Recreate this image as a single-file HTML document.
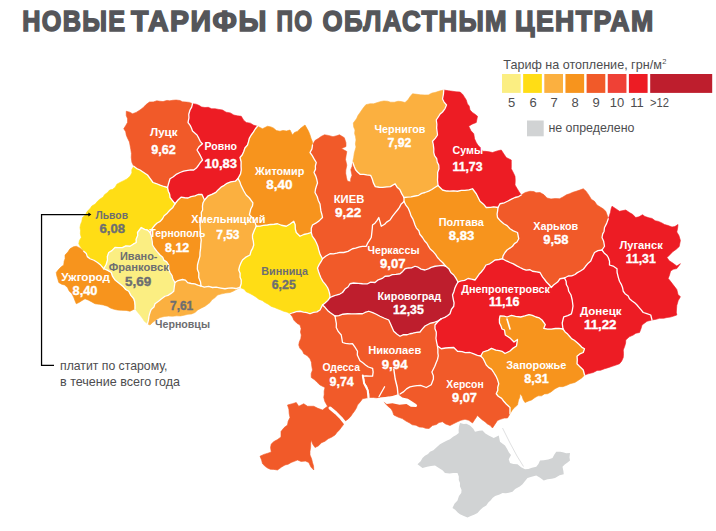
<!DOCTYPE html>
<html lang="ru"><head><meta charset="utf-8"><title>Новые тарифы по областным центрам</title>
<style>html,body{margin:0;padding:0;background:#fff}svg{display:block}</style></head>
<body>
<svg width="716" height="531" viewBox="0 0 716 531">
<rect width="716" height="531" fill="#fff"/>
<g stroke-linejoin="round">
<path d="M133.75 166.25 L131.89 162.35 L131.25 157.5 L131.43 153.49 L130.83 149.58 L130 145 L129.44 141.97 L127.45 137.9 L126.25 135 L125.71 131.74 L123.75 128.75 L125.74 125.58 L127.5 122.5 L127.56 118.77 L126.26 115.53 L126.25 111.25 L129.73 112.15 L132.5 113.75 L136.17 112.38 L140 110 L143.27 107.55 L146.04 104.58 L149.5 102 L153.31 101.88 L156.77 100.83 L160 101.25 L163.02 101.58 L166.91 100.39 L169.73 100.81 L172.92 100.25 L176.17 100.03 L180 100.5 L182.49 101.85 L186.38 102.11 L189.5 102.39 L192.5 103.75 L191.67 107.07 L190 110 L188.77 114.3 L188.95 117.85 L188 122.5 L190.14 125.39 L191.43 128 L192.5 131 L197 135 L198.77 138.15 L200.36 141.6 L202.5 143.75 L199.31 146.38 L197 150 L199.25 153.58 L200.95 156.76 L202.5 160 L200.1 162.96 L198.67 165 L196.36 168.08 L193.75 170 L190.66 169.95 L186.4 170.65 L183.53 171.23 L180 172.5 L176.69 174.09 L173.32 176.79 L170 178.75 L168.59 183.51 L167.5 187.5 L163.81 186.49 L160.03 185.14 L156.15 183.51 L153 182.5 L150.58 179.19 L147.5 175 L143.35 172.19 L140 170 L136.72 168.61Z" fill="#F15A29" stroke="#F15A29" stroke-width="0.6"/>
<path d="M192.5 103.75 L196.03 104.15 L198.8 105.31 L201.67 107.02 L205 107.5 L208.27 107.32 L211.59 108.74 L215.12 108.77 L218.93 109.45 L222.5 110 L226.11 112.21 L230.28 112.89 L233.75 115 L237.37 115.87 L241.25 116.25 L243.62 120.16 L246.25 122.5 L250.34 123.13 L253.75 125.24 L257.5 126.25 L255.42 128.73 L253.36 132.14 L251.25 135 L249.31 138.32 L248.59 141.31 L247.5 145 L244.88 147.98 L243.75 151.44 L242.32 154.77 L240 157.5 L241.13 161.72 L241.05 165.97 L241.25 170 L240.53 173.89 L238 178.5 L235.4 181.2 L230.68 181.98 L227 183.3 L224.27 185.34 L221.5 186.8 L218.33 189.67 L215.9 192.3 L211.8 194.44 L208.2 195.8 L204.5 200 L202 194.5 L198.13 194.49 L195 195.8 L191.07 196.64 L188 198 L184.82 197.76 L181 197.2 L178 200 L175 203.75 L172.28 200.3 L170 197.5 L169.59 193.99 L168.28 191.17 L167.5 187.5 L168.59 183.51 L170 178.75 L173.32 176.79 L176.69 174.09 L180 172.5 L183.53 171.23 L186.4 170.65 L190.66 169.95 L193.75 170 L196.36 168.08 L198.67 165 L200.1 162.96 L202.5 160 L200.95 156.76 L199.25 153.58 L197 150 L199.31 146.38 L202.5 143.75 L200.36 141.6 L198.77 138.15 L197 135 L192.5 131 L191.43 128 L190.14 125.39 L188 122.5 L188.95 117.85 L188.77 114.3 L190 110 L191.67 107.07Z" fill="#ED1C24" stroke="#ED1C24" stroke-width="0.6"/>
<path d="M83.75 251.25 L80.7 247.37 L78.75 243.75 L79.42 240.58 L81.25 237.5 L80.34 233.84 L80.49 230.65 L80 227.5 L80.58 224.47 L81.79 221.39 L82.5 217.5 L85.32 215.06 L87.2 211.37 L90 208.75 L91.83 205.98 L95.26 204.04 L97.5 201.25 L99.79 199.21 L103.19 197.06 L104.53 194.67 L107.5 192.5 L109.66 190 L112.6 189.36 L115.23 187.27 L116.89 184.15 L120 182.5 L123.69 180.63 L126.95 178.99 L130 176.25 L131.89 172.92 L131.78 169.74 L133.75 166.25 L136.72 168.61 L140 170 L143.35 172.19 L147.5 175 L150.58 179.19 L153 182.5 L156.15 183.51 L160.03 185.14 L163.81 186.49 L167.5 187.5 L168.28 191.17 L169.59 193.99 L170 197.5 L172.28 200.3 L175 203.75 L172.89 207.4 L170 210 L167.21 213.13 L164.13 215.75 L162.5 218.75 L160.19 221.45 L157.15 223.02 L155 225 L152.3 228.4 L150 232.5 L147.5 230 L144.65 229.32 L141.25 227.5 L137.5 232.5 L137.72 235.41 L136.11 239.15 L136.25 242.5 L133.2 244.18 L130 246.25 L125.86 245.89 L122.27 247.54 L118.34 247.53 L115 247.5 L111.9 250.67 L108.75 252.5 L107.35 256.52 L107.5 260 L106.23 264.23 L103.75 268.75 L100.67 265.1 L97.5 262.5 L93.95 260.26 L90 258.75 L87.34 256.63 L86.27 253.48Z" fill="#FFDD15" stroke="#FFDD15" stroke-width="0.6"/>
<path d="M83.75 251.25 L80.1 248.15 L76.25 246.25 L73.37 246.87 L70 248.75 L67.8 252.1 L65 255 L65.07 258.69 L64.1 261.25 L63.75 265 L61.25 266.79 L58.71 269.32 L56.25 272.5 L56.77 275.79 L57.81 279.08 L58.75 282.5 L61.57 284.18 L64.6 284.98 L67.5 287.5 L69.13 290.91 L71.96 293.77 L73.75 297.5 L74.97 300.64 L76.25 303.75 L79.43 302.28 L81.74 300.69 L85 298.75 L88.53 300.14 L91.33 301.67 L95 303.75 L99.3 304.33 L103.32 304.98 L107.5 306.25 L110.46 308.05 L114.21 309.34 L117.5 310 L121.36 310.35 L126.15 310.39 L130 311.25 L135 308.75 L135.03 305.39 L134.67 301.7 L133.75 298.75 L130.89 295.35 L128.75 291.25 L125.7 289.52 L123.4 286.84 L121.25 285 L118.21 282.57 L115 280 L112.6 276.43 L111.25 272.5 L107.22 270.18 L103.75 268.75 L100.67 265.1 L97.5 262.5 L93.95 260.26 L90 258.75 L87.34 256.63 L86.27 253.48Z" fill="#F7941D" stroke="#F7941D" stroke-width="0.6"/>
<path d="M135 308.75 L137.7 312.17 L140 315 L142.4 318.14 L144.32 321.18 L147.5 323.75 L148.53 319.64 L148.95 316.18 L150 312.5 L151.15 309.47 L153.94 306.96 L155 303.75 L158.8 300.93 L161.57 298.79 L165 296.25 L167.99 295.32 L171.1 293.43 L173.75 291.25 L174.19 287.46 L175 282.5 L172.9 279.11 L172.02 275.62 L170 272.5 L168.67 269.04 L168.75 265 L166.69 261.86 L163.82 260.1 L162.69 257.28 L160 255 L156.92 251.44 L154.45 248.27 L152.5 245 L152.18 241.34 L151.28 236.26 L150 232.5 L147.5 230 L144.65 229.32 L141.25 227.5 L137.5 232.5 L137.72 235.41 L136.11 239.15 L136.25 242.5 L133.2 244.18 L130 246.25 L125.86 245.89 L122.27 247.54 L118.34 247.53 L115 247.5 L111.9 250.67 L108.75 252.5 L107.35 256.52 L107.5 260 L106.23 264.23 L103.75 268.75 L107.22 270.18 L111.25 272.5 L112.6 276.43 L115 280 L118.21 282.57 L121.25 285 L123.4 286.84 L125.7 289.52 L128.75 291.25 L130.89 295.35 L133.75 298.75 L134.67 301.7 L135.03 305.39Z" fill="#FBEE82" stroke="#FBEE82" stroke-width="0.6"/>
<path d="M175 203.75 L178 200 L181 197.2 L184.82 197.76 L188 198 L191.07 196.64 L195 195.8 L198.13 194.49 L202 194.5 L204.5 200 L202.94 203.04 L202.45 206.05 L202.61 209.98 L201.25 212.5 L201.49 216.78 L200.42 220.47 L200 225 L200.34 229.15 L200.32 232.64 L200.5 236.12 L201.25 240 L200.84 243.99 L200.58 248.41 L200 252.5 L199.94 256.17 L198.63 260.68 L197.5 265 L197.37 269.21 L198.81 273.01 L198.75 277.5 L200.49 281.9 L201 286 L197.77 285.1 L194.82 283.87 L191.25 283.5 L187.65 282.64 L185.41 280.14 L182.5 279.5 L178.02 280.51 L175 282.5 L172.9 279.11 L172.02 275.62 L170 272.5 L168.67 269.04 L168.75 265 L166.69 261.86 L163.82 260.1 L162.69 257.28 L160 255 L156.92 251.44 L154.45 248.27 L152.5 245 L152.18 241.34 L151.28 236.26 L150 232.5 L152.3 228.4 L155 225 L157.15 223.02 L160.19 221.45 L162.5 218.75 L164.13 215.75 L167.21 213.13 L170 210 L172.89 207.4Z" fill="#F7941D" stroke="#F7941D" stroke-width="0.6"/>
<path d="M201 286 L204.23 287.13 L208.64 286.41 L212.5 287.5 L216.16 287.2 L220.77 288.04 L225 288.75 L228.55 288.14 L232.05 287.97 L235.75 288.51 L240 287.5 L237.15 288.99 L233.05 291.27 L230 292.5 L225.34 293.07 L221.77 293.84 L217.5 295 L214.83 297.85 L211.88 299.87 L210 302.5 L205 306.25 L201.06 308.14 L197.81 309.9 L195 312.5 L191.56 313.96 L187.96 314.29 L185 315 L180.52 315.96 L176.77 315.83 L172.5 316.25 L168.52 316.08 L164.27 316.49 L160 317.5 L156.47 319.49 L152.54 322.45 L150 325 L147.5 323.75 L148.53 319.64 L148.95 316.18 L150 312.5 L151.15 309.47 L153.94 306.96 L155 303.75 L158.8 300.93 L161.57 298.79 L165 296.25 L167.99 295.32 L171.1 293.43 L173.75 291.25 L174.19 287.46 L175 282.5 L178.02 280.51 L182.5 279.5 L185.41 280.14 L187.65 282.64 L191.25 283.5 L194.82 283.87 L197.77 285.1Z" fill="#FBB040" stroke="#FBB040" stroke-width="0.6"/>
<path d="M204.5 200 L208.2 195.8 L211.8 194.44 L215.9 192.3 L218.33 189.67 L221.5 186.8 L224.27 185.34 L227 183.3 L230.68 181.98 L235.4 181.2 L238 178.5 L239.81 181.82 L241 185.4 L243.8 191 L246.17 195 L249.4 198 L252.9 202.8 L252.53 205.74 L250.8 209 L249.4 214.7 L253.6 218.9 L255.22 222.93 L256.25 226.25 L254.44 229.95 L252.5 235 L252.54 237.99 L253.34 241.41 L253.75 245 L252.59 248.44 L251.06 251.09 L250 255 L245.45 257.39 L242.5 260 L241.03 262.81 L239.61 266.16 L238.75 270 L240.1 273.25 L240.08 277.16 L241.25 280 L241.19 283.74 L240 287.5 L235.75 288.51 L232.05 287.97 L228.55 288.14 L225 288.75 L220.77 288.04 L216.16 287.2 L212.5 287.5 L208.64 286.41 L204.23 287.13 L201 286 L200.49 281.9 L198.75 277.5 L198.81 273.01 L197.37 269.21 L197.5 265 L198.63 260.68 L199.94 256.17 L200 252.5 L200.58 248.41 L200.84 243.99 L201.25 240 L200.5 236.12 L200.32 232.64 L200.34 229.15 L200 225 L200.42 220.47 L201.49 216.78 L201.25 212.5 L202.61 209.98 L202.45 206.05 L202.94 203.04Z" fill="#FBB040" stroke="#FBB040" stroke-width="0.6"/>
<path d="M257.5 126.25 L262.5 128.75 L267.5 126.25 L270.91 126.92 L273.67 128.16 L276.3 130.56 L280 131.25 L282.95 130.41 L286.49 131.01 L290 130 L292.5 135 L294.49 132.45 L297.77 131.16 L300 128.75 L305 125 L306.89 128.37 L308.54 131.27 L310 135 L310.98 138.16 L312.4 141.66 L312.5 145 L311.94 148.91 L310 152.5 L312.08 155.32 L314.19 159.18 L316.25 162.5 L315.34 166.14 L315.5 169.13 L314 172.5 L315.9 176.34 L316.72 179.21 L317.5 183 L316.36 186.29 L315.55 188.95 L315 192.5 L317.25 196.75 L318.19 200.2 L320 204 L320.48 207.76 L320.89 210.95 L321.82 214.21 L322.5 217.5 L319.07 220.88 L315.77 223.17 L312.5 225 L311.29 228.2 L311.25 232.5 L307.66 233.6 L303.76 234.5 L300 236.25 L296.25 232.5 L295.32 228.96 L295.16 224.75 L293.75 221.25 L289.72 224.19 L286.25 226.25 L281.38 225.24 L277.5 223.75 L274.22 224.26 L270.42 224.48 L267.5 225 L263.33 225.47 L260.11 226.13 L256.25 226.25 L255.22 222.93 L253.6 218.9 L249.4 214.7 L250.8 209 L252.53 205.74 L252.9 202.8 L249.4 198 L246.17 195 L243.8 191 L241 185.4 L239.81 181.82 L238 178.5 L240.53 173.89 L241.25 170 L241.05 165.97 L241.13 161.72 L240 157.5 L242.32 154.77 L243.75 151.44 L244.88 147.98 L247.5 145 L248.59 141.31 L249.31 138.32 L251.25 135 L253.36 132.14 L255.42 128.73Z" fill="#F7941D" stroke="#F7941D" stroke-width="0.6"/>
<path d="M256.25 226.25 L260.11 226.13 L263.33 225.47 L267.5 225 L270.42 224.48 L274.22 224.26 L277.5 223.75 L281.38 225.24 L286.25 226.25 L289.72 224.19 L293.75 221.25 L295.16 224.75 L295.32 228.96 L296.25 232.5 L300 236.25 L303.76 234.5 L307.66 233.6 L311.25 232.5 L312.25 236.17 L315 240 L316.38 242.84 L317.82 246.16 L318.75 250 L320.06 254.39 L322.5 258.75 L321.16 261.47 L319.11 264.61 L317.5 268 L318.39 271.24 L319.79 275.04 L321 278 L323 281.66 L325.38 284.42 L327.5 287.5 L328.7 290.37 L329.78 294.46 L330 297.5 L327.85 300.38 L325.3 302.69 L322.5 305 L320 310 L316.92 311.87 L313.44 312.35 L310 313.75 L306.86 312.68 L303.57 312.21 L300 311.25 L296.3 311.64 L293.53 312.51 L290 313.75 L287.28 312.17 L283.56 311.19 L280.84 310.05 L277.5 308.75 L274.4 307.41 L271.34 306.4 L268.18 304.16 L265 302.5 L262.15 300.43 L259.08 299.38 L256.27 297.27 L253.08 295.17 L250 293.5 L246.09 291.67 L244.18 289.22 L240 287.5 L241.19 283.74 L241.25 280 L240.08 277.16 L240.1 273.25 L238.75 270 L239.61 266.16 L241.03 262.81 L242.5 260 L245.45 257.39 L250 255 L251.06 251.09 L252.59 248.44 L253.75 245 L253.34 241.41 L252.54 237.99 L252.5 235 L254.44 229.95Z" fill="#FFDD15" stroke="#FFDD15" stroke-width="0.6"/>
<path d="M312.5 145 L315 140.5 L318.61 138.34 L321.09 136.51 L324.5 134.8 L328.33 135.41 L333 136.7 L336.75 135.73 L339.5 134.8 L344.3 137.7 L345.95 142.63 L346 146.5 L341.5 148.6 L346.8 151.5 L346.17 155.04 L345.5 159.4 L346.8 165.2 L345.8 170 L345.7 173.29 L346.39 177.31 L347.3 181 L350.6 182 L350.68 178.87 L352 175.3 L350.8 169.7 L352.15 166.19 L352.7 162.1 L354.25 166.46 L355.6 169.7 L357.58 171.99 L360.3 174.4 L363.67 174.45 L366.74 174.92 L370.6 175.3 L372.28 178.98 L373.4 182.9 L375.3 186.6 L379.24 187.24 L382.71 187.3 L386.57 186.95 L390.4 186.6 L395.1 183.8 L397.12 187.14 L399.8 189.5 L401.71 193.64 L404 197.5 L404 201.5 L401.01 204.22 L399.45 207.41 L397.5 210 L395.13 212.87 L392.36 216.4 L390 220 L386.64 222.14 L384.65 224.23 L381.25 226.25 L380.18 222.39 L378.75 217.5 L377.09 220.3 L374.95 223.17 L372.5 225 L372.25 228.6 L371.78 233.16 L371.25 237.5 L369.34 240.66 L367.83 242.89 L366.25 246.25 L362.48 246.32 L359.58 246.91 L355.61 248.13 L352.5 248.75 L347.99 251.38 L343.75 252.5 L339.89 252.41 L336.87 253.14 L333.43 253.85 L330 253.75 L325.99 255.96 L322.5 258.75 L320.06 254.39 L318.75 250 L317.82 246.16 L316.38 242.84 L315 240 L312.25 236.17 L311.25 232.5 L311.29 228.2 L312.5 225 L315.77 223.17 L319.07 220.88 L322.5 217.5 L321.82 214.21 L320.89 210.95 L320.48 207.76 L320 204 L318.19 200.2 L317.25 196.75 L315 192.5 L315.55 188.95 L316.36 186.29 L317.5 183 L316.72 179.21 L315.9 176.34 L314 172.5 L315.5 169.13 L315.34 166.14 L316.25 162.5 L314.19 159.18 L312.08 155.32 L310 152.5 L311.94 148.91Z" fill="#F15A29" stroke="#F15A29" stroke-width="0.6"/>
<path d="M352.7 162.1 L353.61 157.8 L354.3 153 L356 147 L355.39 143.88 L356 140 L355.5 136.6 L354.62 133.6 L355 130 L353.71 126.97 L353.3 123 L356.5 118.8 L357.98 115.48 L360.3 112.2 L363.38 107.79 L365.9 104.7 L370.12 103.75 L373.68 103.82 L377.5 102.5 L381.07 101.46 L383.93 100.98 L387.5 101.25 L390.53 102.16 L394.28 102.25 L398.05 101.25 L401.3 101.56 L405 102.5 L408.01 99.84 L409.97 96.69 L412.5 93.75 L417.07 94.34 L420.3 94.82 L425 95 L428.37 94.9 L432.02 93.07 L435 92.5 L439.42 91.08 L443.75 90 L443.46 93.86 L442.5 99 L444.08 102.05 L446.5 105 L445.02 108.57 L442.5 112 L439.84 114.35 L438.11 117.23 L436.25 120 L436.85 124.23 L436.62 127.94 L437 131.18 L437.5 135 L435.37 138.16 L432.5 141.25 L433.29 144.68 L433.8 148.81 L433.75 152.5 L434.52 155.7 L436.68 158.55 L437.18 162.16 L438.75 165 L438.97 168.72 L437.66 172.27 L437.66 176.78 L437.5 180 L438 185.5 L434.48 187.73 L431.8 189.49 L428.69 191.05 L425 192.5 L421.69 193.34 L418.62 195.32 L415 196 L411.02 196.94 L407.51 197.08 L404 197.5 L401.71 193.64 L399.8 189.5 L397.12 187.14 L395.1 183.8 L390.4 186.6 L386.57 186.95 L382.71 187.3 L379.24 187.24 L375.3 186.6 L373.4 182.9 L372.28 178.98 L370.6 175.3 L366.74 174.92 L363.67 174.45 L360.3 174.4 L357.58 171.99 L355.6 169.7 L354.25 166.46Z" fill="#FBB040" stroke="#FBB040" stroke-width="0.6"/>
<path d="M443.75 90 L448.62 90.8 L452.5 91.25 L456.07 91.84 L460 92 L462.56 94.17 L464.65 97.39 L466.25 100 L467.44 103.9 L469.17 106 L470 110 L472.66 112.64 L474.66 113.97 L477.5 116.25 L476.25 122.5 L472.01 124.18 L468.75 126.25 L470.97 130.77 L473.75 133.75 L474.55 138.83 L476.25 142.5 L477.96 145.22 L480.92 148.14 L482.5 151.25 L485.48 151.35 L489.11 151.83 L492.5 152.5 L497.16 150.95 L501.25 150 L504.07 154.29 L506.25 157.5 L511.25 160 L511.32 164.87 L511.25 168.75 L513.12 172.25 L515 176.25 L515.25 180.41 L515 185 L517.22 188.71 L519.17 191.91 L521.25 195 L518.67 196.56 L515 197.5 L511.48 199.17 L507.5 201.25 L504.37 202.77 L500 203.75 L498 207.5 L493.76 206.89 L490.62 207.46 L486.25 207.5 L483.49 204.19 L480 201.25 L478.11 197.46 L476.25 193.75 L472.5 188.75 L468.98 189.91 L464.92 190.33 L461.31 190.44 L457.5 191.25 L453.55 190.8 L449.84 191.03 L446.7 191.02 L442.5 190 L438 185.5 L437.5 180 L437.66 176.78 L437.66 172.27 L438.97 168.72 L438.75 165 L437.18 162.16 L436.68 158.55 L434.52 155.7 L433.75 152.5 L433.8 148.81 L433.29 144.68 L432.5 141.25 L435.37 138.16 L437.5 135 L437 131.18 L436.62 127.94 L436.85 124.23 L436.25 120 L438.11 117.23 L439.84 114.35 L442.5 112 L445.02 108.57 L446.5 105 L444.08 102.05 L442.5 99 L443.46 93.86Z" fill="#ED1C24" stroke="#ED1C24" stroke-width="0.6"/>
<path d="M438 185.5 L442.5 190 L446.7 191.02 L449.84 191.03 L453.55 190.8 L457.5 191.25 L461.31 190.44 L464.92 190.33 L468.98 189.91 L472.5 188.75 L476.25 193.75 L478.11 197.46 L480 201.25 L483.49 204.19 L486.25 207.5 L490.62 207.46 L493.76 206.89 L498 207.5 L497.67 210.6 L497.07 214.16 L497.5 217.5 L500.63 221.07 L503.75 223.75 L507.09 225.61 L510 228.75 L513.36 230.87 L517.5 232.5 L518.75 238.75 L516.94 241.95 L514.41 243.62 L512.5 246.25 L510.22 247.92 L507.02 249.97 L505 252.5 L503.04 255.82 L502.5 258.75 L499.11 259.49 L495 260 L492.33 261.96 L489.64 263.78 L486 265 L483.73 268.8 L481.25 272 L479.03 274.31 L476.95 277.42 L475 280 L471.55 279.11 L468 278.5 L464.54 280.42 L461.04 280.87 L458 282 L455.91 278.14 L453.75 275 L450.81 272.51 L448.81 268.64 L445.5 266 L442.82 262.73 L439.8 259.92 L437.5 257.5 L435.74 254.63 L432.76 251.18 L430 248.75 L428.44 246.12 L426.84 243.23 L424.51 240.75 L422.5 237.5 L419.85 234.28 L418.86 230.77 L416.39 228.08 L415 225 L413.94 221.72 L412.8 218.83 L410.93 215.63 L410 212.5 L408.16 208.07 L405.87 205.09 L404 201.5 L404 197.5 L407.51 197.08 L411.02 196.94 L415 196 L418.62 195.32 L421.69 193.34 L425 192.5 L428.69 191.05 L431.8 189.49 L434.48 187.73Z" fill="#F7941D" stroke="#F7941D" stroke-width="0.6"/>
<path d="M322.5 258.75 L325.99 255.96 L330 253.75 L333.43 253.85 L336.87 253.14 L339.89 252.41 L343.75 252.5 L347.99 251.38 L352.5 248.75 L355.61 248.13 L359.58 246.91 L362.48 246.32 L366.25 246.25 L367.83 242.89 L369.34 240.66 L371.25 237.5 L371.78 233.16 L372.25 228.6 L372.5 225 L374.95 223.17 L377.09 220.3 L378.75 217.5 L380.18 222.39 L381.25 226.25 L384.65 224.23 L386.64 222.14 L390 220 L392.36 216.4 L395.13 212.87 L397.5 210 L399.45 207.41 L401.01 204.22 L404 201.5 L405.87 205.09 L408.16 208.07 L410 212.5 L410.93 215.63 L412.8 218.83 L413.94 221.72 L415 225 L416.39 228.08 L418.86 230.77 L419.85 234.28 L422.5 237.5 L424.51 240.75 L426.84 243.23 L428.44 246.12 L430 248.75 L432.76 251.18 L435.74 254.63 L437.5 257.5 L439.8 259.92 L442.82 262.73 L445.5 266 L442.25 265.43 L438.16 265.83 L435 266.25 L431.13 267.34 L428.8 268.6 L425 270 L421.12 269.08 L418.14 267.19 L415 266.25 L411.5 267.81 L408.35 267.98 L405 268.75 L402.74 271.41 L400 273.75 L395.92 274.31 L392.26 274.57 L389.3 275.99 L385 276.25 L382.18 278.45 L377.59 280.2 L375 282.5 L370.62 282.2 L367.14 283.96 L362.5 283.75 L358.29 283.28 L353.57 283.01 L350 283.75 L348.17 286.77 L344.99 289.08 L342.5 292.5 L339.8 294.05 L336.25 295.01 L333.25 296.08 L330 297.5 L329.78 294.46 L328.7 290.37 L327.5 287.5 L325.38 284.42 L323 281.66 L321 278 L319.79 275.04 L318.39 271.24 L317.5 268 L319.11 264.61 L321.16 261.47Z" fill="#F15A29" stroke="#F15A29" stroke-width="0.6"/>
<path d="M330 297.5 L333.25 296.08 L336.25 295.01 L339.8 294.05 L342.5 292.5 L344.99 289.08 L348.17 286.77 L350 283.75 L353.57 283.01 L358.29 283.28 L362.5 283.75 L367.14 283.96 L370.62 282.2 L375 282.5 L377.59 280.2 L382.18 278.45 L385 276.25 L389.3 275.99 L392.26 274.57 L395.92 274.31 L400 273.75 L402.74 271.41 L405 268.75 L408.35 267.98 L411.5 267.81 L415 266.25 L418.14 267.19 L421.12 269.08 L425 270 L428.8 268.6 L431.13 267.34 L435 266.25 L438.16 265.83 L442.25 265.43 L445.5 266 L448.81 268.64 L450.81 272.51 L453.75 275 L455.91 278.14 L458 282 L456.16 285.27 L454.8 288.35 L453.98 291.4 L452.5 295 L453.28 299.27 L454.08 302.79 L453.75 306.25 L451.37 309.44 L450 313.75 L447.48 315.78 L444.78 317.36 L441.25 318.75 L438.14 320.9 L433.75 322.5 L429.82 323.48 L425 326 L422.24 329.09 L420 332 L416.42 332.38 L412.86 333.24 L410 333.75 L407.15 334.74 L403.57 334.59 L400 336.25 L397.12 334.31 L393.75 331.25 L392.18 327.66 L390.43 323.7 L388.75 320 L383.9 318 L380 316.25 L376.28 314.22 L372.7 312.6 L368.75 311.25 L365.08 312.46 L362.5 313.75 L359.08 313.56 L355.51 313.78 L351.37 313.91 L347.5 313.75 L342.85 314.23 L338.92 315.63 L335 316 L330 312.5 L327.56 310.42 L324.98 307.32 L322.5 305 L325.3 302.69 L327.85 300.38Z" fill="#BE1E2D" stroke="#BE1E2D" stroke-width="0.6"/>
<path d="M290 313.75 L292.55 316.95 L293.75 320 L296.94 323.27 L300 325 L301.09 328.72 L300.46 332.02 L301.25 335 L300.82 338.39 L299.29 342.05 L298.75 345 L299.82 348.11 L302.55 350.93 L303.75 353.75 L307.27 355.68 L310 358.75 L311.38 362.15 L311.82 366.5 L312.5 370 L311.15 373.63 L311.25 377.5 L314.83 379.91 L317.11 382.37 L320 385 L325 387.5 L324.15 390.97 L324.18 394.61 L323.75 397.5 L324.84 401.55 L327.5 406.25 L322.5 410 L317.86 408.32 L313.75 406.25 L307.5 406.25 L303.75 403.75 L298.75 406.25 L296.25 402.5 L292.38 403.69 L287.5 405 L288.89 409.19 L289.2 413.64 L290 417.5 L288.17 421.15 L287.5 425 L284.15 427.58 L281 431.5 L281 437 L277.58 439.49 L273.94 441.5 L271.25 444 L270.54 447.52 L271.25 452 L267.96 453.2 L263.9 454.42 L260 456.25 L261.57 460.02 L262.5 463.75 L265.13 466.34 L267.5 468 L270.21 469.28 L273.74 469.39 L277.5 470 L281.56 467.07 L285 465 L288.19 464.21 L291.13 462.51 L294.34 461.34 L297.5 460 L301.09 461.42 L305.38 461.11 L308.75 462.5 L310.96 467.05 L313.75 470 L313.55 466.12 L312.5 462.5 L311.6 458.76 L310 455 L309.98 451.47 L310.64 447.25 L310.76 443.2 L311.25 440 L312.66 444 L315 447.5 L318.25 445.93 L321.54 442.71 L325 441.25 L328.14 438.73 L331.56 437.23 L335 435 L336.92 432.46 L339.42 429.9 L341.25 427.5 L343.51 424.53 L345 421.25 L348.29 418.92 L350.7 416.43 L352.5 413.75 L354.41 411.34 L356.51 407.85 L357.5 405 L360.43 401.67 L362.5 398.75 L368.75 397.5 L368.7 393.87 L367.7 390.3 L366.52 386.43 L364.1 383.3 L363.73 379.39 L363 376.2 L366 375.78 L369.6 376.22 L372.6 376.2 L373.14 372 L372.6 368.4 L368.4 367 L365.5 365 L362.53 362.6 L360 360.7 L357.3 355 L357.5 351.25 L354.8 346.91 L352.5 343.75 L349.51 343.9 L345.47 343.36 L342.5 342.5 L341.95 338.99 L341.25 335 L338.2 331.44 L336.25 327.5 L336.36 323.72 L335.71 320.18 L335 316 L330 312.5 L327.56 310.42 L324.98 307.32 L322.5 305 L320 310 L316.92 311.87 L313.44 312.35 L310 313.75 L306.86 312.68 L303.57 312.21 L300 311.25 L296.3 311.64 L293.53 312.51Z" fill="#F15A29" stroke="#F15A29" stroke-width="0.6"/>
<path d="M335 316 L338.92 315.63 L342.85 314.23 L347.5 313.75 L351.37 313.91 L355.51 313.78 L359.08 313.56 L362.5 313.75 L365.08 312.46 L368.75 311.25 L372.7 312.6 L376.28 314.22 L380 316.25 L383.9 318 L388.75 320 L390.43 323.7 L392.18 327.66 L393.75 331.25 L397.12 334.31 L400 336.25 L403.57 334.59 L407.15 334.74 L410 333.75 L412.86 333.24 L416.42 332.38 L420 332 L422.24 329.09 L425 326 L429.82 323.48 L433.75 322.5 L438.14 320.9 L441.25 318.75 L437.96 321.48 L435 325 L434.96 328.84 L436.26 332.08 L436.25 335 L435.93 338.25 L436.7 342.59 L437.5 346 L437.91 349.56 L437.86 352.84 L438.26 355.77 L437.6 359.2 L436.14 362.76 L434.8 366.3 L431.9 372 L433.39 375.87 L433.4 379 L431.2 384.7 L426.3 387.5 L420.6 385.4 L417.1 385.56 L413.6 386.1 L409.96 386.94 L406.5 388.9 L403.73 391.64 L400 394 L395 397.5 L391.43 397.94 L388.54 396.55 L385 397 L380.63 397.13 L377.5 398 L373.46 397.49 L368.75 397.5 L368.7 393.87 L367.7 390.3 L366.52 386.43 L364.1 383.3 L363.73 379.39 L363 376.2 L366 375.78 L369.6 376.22 L372.6 376.2 L373.14 372 L372.6 368.4 L368.4 367 L365.5 365 L362.53 362.6 L360 360.7 L357.3 355 L357.5 351.25 L354.8 346.91 L352.5 343.75 L349.51 343.9 L345.47 343.36 L342.5 342.5 L341.95 338.99 L341.25 335 L338.2 331.44 L336.25 327.5 L336.36 323.72 L335.71 320.18Z" fill="#F15A29" stroke="#F15A29" stroke-width="0.6"/>
<path d="M437.5 346 L441.25 348.75 L445.54 347.99 L449.03 347.75 L453.75 347.5 L457.5 351.25 L462.08 351.6 L465.25 352.55 L470 352.5 L473.15 353.73 L477.43 355.32 L480.75 356 L483.24 358.68 L484.6 361.58 L486.25 365 L488.54 367.41 L491.67 369.41 L493.75 372.5 L495.95 376.04 L497.47 379.41 L498.75 383.75 L497.72 387.37 L497.82 390.34 L496.25 393.75 L498.26 396.22 L501.63 398.37 L503.75 401.25 L506.47 404.19 L510 407.5 L510 413.75 L507.5 418 L504.18 418.11 L500.3 419.33 L497.5 420.5 L495.04 424.16 L492.5 428 L490.01 425.32 L487.45 423.98 L485 421.75 L482.36 419.88 L480.08 417.93 L477.5 415.5 L474.63 419.76 L472.5 423 L468.8 420.35 L465 419.25 L460.84 420.35 L457.5 421.75 L453.47 423.76 L450 425.5 L445.53 423.92 L442.5 421.75 L439.01 422.55 L436.43 424.53 L432.5 425.5 L429 428.5 L425.55 428.31 L422.88 427.29 L419.2 427 L415.97 425.27 L412.34 424.79 L409.3 422.8 L405.96 421.04 L402.3 418.6 L398.39 417.22 L393.8 415 L392.51 411.31 L391 408.7 L388.4 406.72 L385.79 404.1 L384 401.6 L387.94 400.44 L392 400 L394.72 397.84 L397.84 395.93 L400 394 L403.73 391.64 L406.5 388.9 L409.96 386.94 L413.6 386.1 L417.1 385.56 L420.6 385.4 L426.3 387.5 L431.2 384.7 L433.4 379 L433.39 375.87 L431.9 372 L434.8 366.3 L436.14 362.76 L437.6 359.2 L438.26 355.77 L437.86 352.84 L437.91 349.56Z" fill="#F15A29" stroke="#F15A29" stroke-width="0.6"/>
<path d="M458 282 L461.04 280.87 L464.54 280.42 L468 278.5 L471.55 279.11 L475 280 L476.95 277.42 L479.03 274.31 L481.25 272 L483.73 268.8 L486 265 L489.64 263.78 L492.33 261.96 L495 260 L499.11 259.49 L502.5 258.75 L506.43 260.95 L510 262.5 L513.38 263.85 L516.83 265.83 L520 267.5 L523.21 269.09 L526.16 270.11 L530.01 269.74 L532.5 271.25 L536.79 271.85 L540 272.5 L542.49 276.92 L545 280 L546.65 282.32 L549.37 284.99 L551.25 287.5 L553.92 284.66 L557.59 282.02 L560 278.75 L564.5 278 L566.11 281.32 L566.33 284.54 L568 287.5 L568.73 291.28 L571 295 L572.2 300 L573 306 L572.31 310.36 L571.4 313.8 L567.77 315.65 L563.7 316.9 L562.2 323 L563 329 L559 328.4 L555.4 328.5 L551.4 329.2 L547.45 329.08 L543.7 328.4 L545.3 324.6 L542 320 L539.28 317.92 L536 317 L532.34 315.32 L529 314.6 L524.84 315.99 L520.7 317 L515.47 316.28 L511.5 315.4 L507 317 L504.03 316.15 L500 316 L499.41 319.15 L499.5 323 L500.85 325.62 L502 329 L504.5 330 L505.3 335 L510 338 L514 342 L517.5 339.5 L516.99 342.78 L516.5 346 L513.2 348.08 L510 351 L505 353.5 L502.07 351.35 L499.2 350.7 L495.77 350.03 L491.5 348.4 L488.05 350.35 L483 352 L480.75 356 L477.43 355.32 L473.15 353.73 L470 352.5 L465.25 352.55 L462.08 351.6 L457.5 351.25 L453.75 347.5 L449.03 347.75 L445.54 347.99 L441.25 348.75 L437.5 346 L436.7 342.59 L435.93 338.25 L436.25 335 L436.26 332.08 L434.96 328.84 L435 325 L437.96 321.48 L441.25 318.75 L444.78 317.36 L447.48 315.78 L450 313.75 L451.37 309.44 L453.75 306.25 L454.08 302.79 L453.28 299.27 L452.5 295 L453.98 291.4 L454.8 288.35 L456.16 285.27Z" fill="#ED1C24" stroke="#ED1C24" stroke-width="0.6"/>
<path d="M521.25 195 L525.23 192.54 L530 191.25 L533.81 191.56 L536.11 192.71 L540 192.5 L544 194.81 L547 198 L551 198.96 L555.28 198.49 L559.5 198.75 L562.97 197 L566.47 194.79 L569.5 193.75 L572.91 192.24 L576.2 191.25 L579.79 190.06 L583.25 188.75 L586.03 191.14 L587.96 193.88 L589.5 196.25 L591.27 199.24 L594.53 201.37 L597 205 L600.24 207.01 L603.12 208.81 L605.75 211.25 L607.16 215.09 L608.25 218.75 L606.64 223.38 L604.5 227.5 L604.03 231.45 L602.7 233.86 L602 237.5 L603.67 241.33 L604.5 246.25 L602 250 L597.96 250.61 L594.5 252.5 L592.39 256.89 L590.75 261 L588.17 263.2 L585.36 266.52 L583.5 269 L580.41 270.99 L577.37 272.63 L575 274.5 L571.66 275.96 L568.26 276.02 L564.5 278 L560 278.75 L557.59 282.02 L553.92 284.66 L551.25 287.5 L549.37 284.99 L546.65 282.32 L545 280 L542.49 276.92 L540 272.5 L536.79 271.85 L532.5 271.25 L530.01 269.74 L526.16 270.11 L523.21 269.09 L520 267.5 L516.83 265.83 L513.38 263.85 L510 262.5 L506.43 260.95 L502.5 258.75 L503.04 255.82 L505 252.5 L507.02 249.97 L510.22 247.92 L512.5 246.25 L514.41 243.62 L516.94 241.95 L518.75 238.75 L517.5 232.5 L513.36 230.87 L510 228.75 L507.09 225.61 L503.75 223.75 L500.63 221.07 L497.5 217.5 L497.07 214.16 L497.67 210.6 L498 207.5 L500 203.75 L504.37 202.77 L507.5 201.25 L511.48 199.17 L515 197.5 L518.67 196.56Z" fill="#F15A29" stroke="#F15A29" stroke-width="0.6"/>
<path d="M608.25 218.75 L609.39 215.73 L610.52 212.18 L611.05 208.98 L612 206.25 L615.35 208.39 L619.5 211.25 L625.75 210 L629.43 212.51 L632.53 214.37 L635.75 217.5 L638.98 216.85 L642.5 214.7 L644.93 216.45 L648.9 217.84 L652 218.4 L655.18 220.78 L658.43 221.4 L661.86 222.93 L664.5 224.5 L668.16 225.54 L672 227 L674.82 226.55 L678 224.5 L677.62 228.22 L676.8 232 L678.92 235.56 L680.4 240.4 L679.2 246.6 L675.98 249.48 L673 251.5 L669.64 254.95 L667 257.6 L669.23 260.78 L672 262.5 L676.8 266 L680.4 263.7 L676.8 268.6 L673.32 269.27 L670.6 271 L669.55 274.91 L668.2 278.4 L670.31 281.05 L673 284.6 L676.8 289.5 L678 294.4 L680.4 296.8 L678.23 300.51 L676.8 305.4 L676.52 308.98 L676.33 312.26 L676.8 315 L673.87 316.01 L670.28 317.12 L667 317.5 L663.82 318.25 L659.4 318.37 L656.08 319.25 L652 320 L650.75 315 L646.83 313.67 L643.25 312.5 L641.17 309.94 L638.96 307.33 L637 305 L634.98 303.07 L632.16 300.92 L629.5 298.75 L628.21 296.09 L625.05 293.71 L623.25 291.25 L622.59 287.66 L621.29 284.36 L619.5 281.25 L618.38 277.61 L617.1 272.51 L617 268.75 L613.08 266.03 L609.5 265 L609.54 261.27 L608.25 257.5 L606.73 255.13 L604.1 252.91 L602 250 L604.5 246.25 L603.67 241.33 L602 237.5 L602.7 233.86 L604.03 231.45 L604.5 227.5 L606.64 223.38Z" fill="#ED1C24" stroke="#ED1C24" stroke-width="0.6"/>
<path d="M602 250 L604.1 252.91 L606.73 255.13 L608.25 257.5 L609.54 261.27 L609.5 265 L613.08 266.03 L617 268.75 L617.1 272.51 L618.38 277.61 L619.5 281.25 L621.29 284.36 L622.59 287.66 L623.25 291.25 L625.05 293.71 L628.21 296.09 L629.5 298.75 L632.16 300.92 L634.98 303.07 L637 305 L638.96 307.33 L641.17 309.94 L643.25 312.5 L646.83 313.67 L650.75 315 L652 320 L647 321.25 L642 325 L641.11 328.33 L639.5 332.5 L635.81 333.26 L633.25 335 L629.24 336.83 L625.75 340 L625.62 343.09 L624.69 346.35 L623.25 350 L623.5 353.63 L623.25 357.5 L621.61 361.16 L619.5 363.75 L615.92 365.07 L612.11 366.37 L608.11 367.68 L604.5 368.75 L600.61 370.26 L597.14 370.42 L593.25 372.5 L588.87 373.62 L584.5 375 L583.25 370 L580.25 367.09 L577 363.75 L577.27 359.74 L577 356.25 L579.77 353.97 L583.25 352.5 L584.5 348.75 L581.92 347.32 L579.25 344.57 L577 342.5 L574.33 340.27 L571.78 338.85 L569.5 336.25 L567.65 334.1 L565.1 331.96 L563 329 L562.2 323 L563.7 316.9 L567.77 315.65 L571.4 313.8 L572.31 310.36 L573 306 L572.2 300 L571 295 L568.73 291.28 L568 287.5 L566.33 284.54 L566.11 281.32 L564.5 278 L568.26 276.02 L571.66 275.96 L575 274.5 L577.37 272.63 L580.41 270.99 L583.5 269 L585.36 266.52 L588.17 263.2 L590.75 261 L592.39 256.89 L594.5 252.5 L597.96 250.61Z" fill="#ED1C24" stroke="#ED1C24" stroke-width="0.6"/>
<path d="M480.75 356 L483 352 L488.05 350.35 L491.5 348.4 L495.77 350.03 L499.2 350.7 L502.07 351.35 L505 353.5 L510 351 L513.2 348.08 L516.5 346 L516.99 342.78 L517.5 339.5 L514 342 L510 338 L505.3 335 L504.5 330 L502 329 L500.85 325.62 L499.5 323 L499.41 319.15 L500 316 L504.03 316.15 L507 317 L511.5 315.4 L515.47 316.28 L520.7 317 L524.84 315.99 L529 314.6 L532.34 315.32 L536 317 L539.28 317.92 L542 320 L545.3 324.6 L543.7 328.4 L547.45 329.08 L551.4 329.2 L555.4 328.5 L559 328.4 L563 329 L565.1 331.96 L567.65 334.1 L569.5 336.25 L571.78 338.85 L574.33 340.27 L577 342.5 L579.25 344.57 L581.92 347.32 L584.5 348.75 L583.25 352.5 L579.77 353.97 L577 356.25 L577.27 359.74 L577 363.75 L580.25 367.09 L583.25 370 L584.5 375 L582.12 377.66 L578.75 380 L574.89 382.46 L570 383.75 L566.74 385.35 L562.72 386.64 L559.08 386.66 L555 388.75 L550.94 391.99 L547.5 393.75 L544.48 393.88 L541.53 395.82 L538.1 395.81 L535 397.5 L531.67 399.91 L528.63 400.99 L525 402.5 L523.23 399.65 L522 396 L520 393.75 L519.79 397.22 L518.5 400 L517.5 405 L514.77 407.36 L512.16 410.16 L510 413.75 L510 407.5 L506.47 404.19 L503.75 401.25 L501.63 398.37 L498.26 396.22 L496.25 393.75 L497.82 390.34 L497.72 387.37 L498.75 383.75 L497.47 379.41 L495.95 376.04 L493.75 372.5 L491.67 369.41 L488.54 367.41 L486.25 365 L484.6 361.58 L483.24 358.68Z" fill="#F7941D" stroke="#F7941D" stroke-width="0.6"/>
<path d="M460 423 L458.98 426.41 L458.59 430.04 L458.75 433 L456.2 435.09 L453.06 436.85 L450 439.25 L447.02 440.59 L443.65 442.34 L440 444.25 L436.65 447.35 L433.38 450.13 L430 451.75 L428.03 454.02 L424.92 455.65 L422.5 458 L420.66 461.3 L417.5 464.25 L422.5 468 L427.05 466.85 L431.01 465.88 L435 465.5 L438.47 467.75 L442.48 470.33 L445 473 L449.65 473.39 L453.15 472.97 L457.5 473 L458.84 476.42 L458.78 480.11 L460 483 L459.95 486.18 L461.55 489.94 L461.25 493 L458.96 496.05 L457.5 500.5 L454.48 503.8 L452.5 508 L455.16 509.72 L457.73 512.47 L460 514.25 L463.25 515.69 L467.5 517.5 L470.82 516.04 L474.02 514.75 L477.5 513 L479.91 510.25 L482.87 507.42 L486.25 505.5 L488.32 502.44 L490.8 500.28 L492.5 498 L495.12 496 L499.56 494.6 L502.5 493 L505.79 493.3 L508.84 492.84 L512.5 491.75 L515.14 488.91 L519.76 486.6 L522.5 484.25 L524.86 481.33 L527.5 478 L531.64 476.71 L536.25 475.5 L540.09 477.85 L543.75 480.5 L547.55 479.25 L551.74 478.81 L555 478 L559.64 475.31 L563.75 474.25 L563.37 470.89 L562.5 466.75 L564.72 464.48 L567.22 462.66 L570 460.5 L569.48 457.29 L570 453 L566.19 453.19 L562.91 452.25 L560.21 451.76 L556.25 451.75 L554.06 455.04 L552.5 458 L548.28 459.59 L543.73 460.35 L540 460.5 L538.43 464.05 L536.25 466.75 L531.99 467.68 L528.4 468.91 L525 469.25 L521.12 467.29 L517.5 464.25 L513.37 463.93 L510 463 L508.75 459.25 L511 455 L508.96 452.38 L507.14 448.91 L505 445.5 L500 441.75 L498.75 435.5 L493.75 438 L488.75 435.5 L485.39 433.46 L482.5 430.5 L479.23 430.63 L475 431.75 L473.33 428.72 L470 425.5 L466.4 423.84 L463.81 423.95Z" fill="#D1D3D4"/>
</g>
<g fill="none" stroke="#fff" stroke-width="1.3" stroke-linejoin="round" stroke-linecap="round">
<path d="M192.5 103.75 L191.67 107.07 L190 110 L188.77 114.3 L188.95 117.85 L188 122.5 L190.14 125.39 L191.43 128 L192.5 131 L197 135 L198.77 138.15 L200.36 141.6 L202.5 143.75 L199.31 146.38 L197 150 L199.25 153.58 L200.95 156.76 L202.5 160 L200.1 162.96 L198.67 165 L196.36 168.08 L193.75 170 L190.66 169.95 L186.4 170.65 L183.53 171.23 L180 172.5 L176.69 174.09 L173.32 176.79 L170 178.75 L168.59 183.51 L167.5 187.5"/>
<path d="M167.5 187.5 L163.81 186.49 L160.03 185.14 L156.15 183.51 L153 182.5 L150.58 179.19 L147.5 175 L143.35 172.19 L140 170 L136.72 168.61 L133.75 166.25"/>
<path d="M257.5 126.25 L255.42 128.73 L253.36 132.14 L251.25 135 L249.31 138.32 L248.59 141.31 L247.5 145 L244.88 147.98 L243.75 151.44 L242.32 154.77 L240 157.5 L241.13 161.72 L241.05 165.97 L241.25 170 L240.53 173.89 L238 178.5"/>
<path d="M238 178.5 L235.4 181.2 L230.68 181.98 L227 183.3 L224.27 185.34 L221.5 186.8 L218.33 189.67 L215.9 192.3 L211.8 194.44 L208.2 195.8 L204.5 200"/>
<path d="M204.5 200 L202 194.5 L198.13 194.49 L195 195.8 L191.07 196.64 L188 198 L184.82 197.76 L181 197.2 L178 200 L175 203.75"/>
<path d="M175 203.75 L172.28 200.3 L170 197.5 L169.59 193.99 L168.28 191.17 L167.5 187.5"/>
<path d="M175 203.75 L172.89 207.4 L170 210 L167.21 213.13 L164.13 215.75 L162.5 218.75 L160.19 221.45 L157.15 223.02 L155 225 L152.3 228.4 L150 232.5"/>
<path d="M150 232.5 L147.5 230 L144.65 229.32 L141.25 227.5 L137.5 232.5 L137.72 235.41 L136.11 239.15 L136.25 242.5 L133.2 244.18 L130 246.25 L125.86 245.89 L122.27 247.54 L118.34 247.53 L115 247.5 L111.9 250.67 L108.75 252.5 L107.35 256.52 L107.5 260 L106.23 264.23 L103.75 268.75"/>
<path d="M103.75 268.75 L100.67 265.1 L97.5 262.5 L93.95 260.26 L90 258.75 L87.34 256.63 L86.27 253.48 L83.75 251.25"/>
<path d="M135 308.75 L135.03 305.39 L134.67 301.7 L133.75 298.75 L130.89 295.35 L128.75 291.25 L125.7 289.52 L123.4 286.84 L121.25 285 L118.21 282.57 L115 280 L112.6 276.43 L111.25 272.5 L107.22 270.18 L103.75 268.75"/>
<path d="M147.5 323.75 L148.53 319.64 L148.95 316.18 L150 312.5 L151.15 309.47 L153.94 306.96 L155 303.75 L158.8 300.93 L161.57 298.79 L165 296.25 L167.99 295.32 L171.1 293.43 L173.75 291.25 L174.19 287.46 L175 282.5"/>
<path d="M175 282.5 L172.9 279.11 L172.02 275.62 L170 272.5 L168.67 269.04 L168.75 265 L166.69 261.86 L163.82 260.1 L162.69 257.28 L160 255 L156.92 251.44 L154.45 248.27 L152.5 245 L152.18 241.34 L151.28 236.26 L150 232.5"/>
<path d="M204.5 200 L202.94 203.04 L202.45 206.05 L202.61 209.98 L201.25 212.5 L201.49 216.78 L200.42 220.47 L200 225 L200.34 229.15 L200.32 232.64 L200.5 236.12 L201.25 240 L200.84 243.99 L200.58 248.41 L200 252.5 L199.94 256.17 L198.63 260.68 L197.5 265 L197.37 269.21 L198.81 273.01 L198.75 277.5 L200.49 281.9 L201 286"/>
<path d="M201 286 L197.77 285.1 L194.82 283.87 L191.25 283.5 L187.65 282.64 L185.41 280.14 L182.5 279.5 L178.02 280.51 L175 282.5"/>
<path d="M201 286 L204.23 287.13 L208.64 286.41 L212.5 287.5 L216.16 287.2 L220.77 288.04 L225 288.75 L228.55 288.14 L232.05 287.97 L235.75 288.51 L240 287.5"/>
<path d="M238 178.5 L239.81 181.82 L241 185.4 L243.8 191 L246.17 195 L249.4 198 L252.9 202.8 L252.53 205.74 L250.8 209 L249.4 214.7 L253.6 218.9 L255.22 222.93 L256.25 226.25"/>
<path d="M256.25 226.25 L254.44 229.95 L252.5 235 L252.54 237.99 L253.34 241.41 L253.75 245 L252.59 248.44 L251.06 251.09 L250 255 L245.45 257.39 L242.5 260 L241.03 262.81 L239.61 266.16 L238.75 270 L240.1 273.25 L240.08 277.16 L241.25 280 L241.19 283.74 L240 287.5"/>
<path d="M312.5 145 L311.94 148.91 L310 152.5 L312.08 155.32 L314.19 159.18 L316.25 162.5 L315.34 166.14 L315.5 169.13 L314 172.5 L315.9 176.34 L316.72 179.21 L317.5 183 L316.36 186.29 L315.55 188.95 L315 192.5 L317.25 196.75 L318.19 200.2 L320 204 L320.48 207.76 L320.89 210.95 L321.82 214.21 L322.5 217.5 L319.07 220.88 L315.77 223.17 L312.5 225 L311.29 228.2 L311.25 232.5"/>
<path d="M311.25 232.5 L307.66 233.6 L303.76 234.5 L300 236.25 L296.25 232.5 L295.32 228.96 L295.16 224.75 L293.75 221.25 L289.72 224.19 L286.25 226.25 L281.38 225.24 L277.5 223.75 L274.22 224.26 L270.42 224.48 L267.5 225 L263.33 225.47 L260.11 226.13 L256.25 226.25"/>
<path d="M311.25 232.5 L312.25 236.17 L315 240 L316.38 242.84 L317.82 246.16 L318.75 250 L320.06 254.39 L322.5 258.75"/>
<path d="M322.5 258.75 L321.16 261.47 L319.11 264.61 L317.5 268 L318.39 271.24 L319.79 275.04 L321 278 L323 281.66 L325.38 284.42 L327.5 287.5 L328.7 290.37 L329.78 294.46 L330 297.5"/>
<path d="M330 297.5 L327.85 300.38 L325.3 302.69 L322.5 305"/>
<path d="M322.5 305 L320 310 L316.92 311.87 L313.44 312.35 L310 313.75 L306.86 312.68 L303.57 312.21 L300 311.25 L296.3 311.64 L293.53 312.51 L290 313.75"/>
<path d="M352.7 162.1 L354.25 166.46 L355.6 169.7 L357.58 171.99 L360.3 174.4 L363.67 174.45 L366.74 174.92 L370.6 175.3 L372.28 178.98 L373.4 182.9 L375.3 186.6 L379.24 187.24 L382.71 187.3 L386.57 186.95 L390.4 186.6 L395.1 183.8 L397.12 187.14 L399.8 189.5 L401.71 193.64 L404 197.5"/>
<path d="M404 197.5 L404 201.5"/>
<path d="M404 201.5 L401.01 204.22 L399.45 207.41 L397.5 210 L395.13 212.87 L392.36 216.4 L390 220 L386.64 222.14 L384.65 224.23 L381.25 226.25 L380.18 222.39 L378.75 217.5 L377.09 220.3 L374.95 223.17 L372.5 225 L372.25 228.6 L371.78 233.16 L371.25 237.5 L369.34 240.66 L367.83 242.89 L366.25 246.25 L362.48 246.32 L359.58 246.91 L355.61 248.13 L352.5 248.75 L347.99 251.38 L343.75 252.5 L339.89 252.41 L336.87 253.14 L333.43 253.85 L330 253.75 L325.99 255.96 L322.5 258.75"/>
<path d="M443.75 90 L443.46 93.86 L442.5 99 L444.08 102.05 L446.5 105 L445.02 108.57 L442.5 112 L439.84 114.35 L438.11 117.23 L436.25 120 L436.85 124.23 L436.62 127.94 L437 131.18 L437.5 135 L435.37 138.16 L432.5 141.25 L433.29 144.68 L433.8 148.81 L433.75 152.5 L434.52 155.7 L436.68 158.55 L437.18 162.16 L438.75 165 L438.97 168.72 L437.66 172.27 L437.66 176.78 L437.5 180 L438 185.5"/>
<path d="M438 185.5 L434.48 187.73 L431.8 189.49 L428.69 191.05 L425 192.5 L421.69 193.34 L418.62 195.32 L415 196 L411.02 196.94 L407.51 197.08 L404 197.5"/>
<path d="M521.25 195 L518.67 196.56 L515 197.5 L511.48 199.17 L507.5 201.25 L504.37 202.77 L500 203.75 L498 207.5"/>
<path d="M498 207.5 L493.76 206.89 L490.62 207.46 L486.25 207.5 L483.49 204.19 L480 201.25 L478.11 197.46 L476.25 193.75 L472.5 188.75 L468.98 189.91 L464.92 190.33 L461.31 190.44 L457.5 191.25 L453.55 190.8 L449.84 191.03 L446.7 191.02 L442.5 190 L438 185.5"/>
<path d="M498 207.5 L497.67 210.6 L497.07 214.16 L497.5 217.5 L500.63 221.07 L503.75 223.75 L507.09 225.61 L510 228.75 L513.36 230.87 L517.5 232.5 L518.75 238.75 L516.94 241.95 L514.41 243.62 L512.5 246.25 L510.22 247.92 L507.02 249.97 L505 252.5 L503.04 255.82 L502.5 258.75"/>
<path d="M502.5 258.75 L499.11 259.49 L495 260 L492.33 261.96 L489.64 263.78 L486 265 L483.73 268.8 L481.25 272 L479.03 274.31 L476.95 277.42 L475 280 L471.55 279.11 L468 278.5 L464.54 280.42 L461.04 280.87 L458 282"/>
<path d="M458 282 L455.91 278.14 L453.75 275 L450.81 272.51 L448.81 268.64 L445.5 266"/>
<path d="M445.5 266 L442.82 262.73 L439.8 259.92 L437.5 257.5 L435.74 254.63 L432.76 251.18 L430 248.75 L428.44 246.12 L426.84 243.23 L424.51 240.75 L422.5 237.5 L419.85 234.28 L418.86 230.77 L416.39 228.08 L415 225 L413.94 221.72 L412.8 218.83 L410.93 215.63 L410 212.5 L408.16 208.07 L405.87 205.09 L404 201.5"/>
<path d="M445.5 266 L442.25 265.43 L438.16 265.83 L435 266.25 L431.13 267.34 L428.8 268.6 L425 270 L421.12 269.08 L418.14 267.19 L415 266.25 L411.5 267.81 L408.35 267.98 L405 268.75 L402.74 271.41 L400 273.75 L395.92 274.31 L392.26 274.57 L389.3 275.99 L385 276.25 L382.18 278.45 L377.59 280.2 L375 282.5 L370.62 282.2 L367.14 283.96 L362.5 283.75 L358.29 283.28 L353.57 283.01 L350 283.75 L348.17 286.77 L344.99 289.08 L342.5 292.5 L339.8 294.05 L336.25 295.01 L333.25 296.08 L330 297.5"/>
<path d="M458 282 L456.16 285.27 L454.8 288.35 L453.98 291.4 L452.5 295 L453.28 299.27 L454.08 302.79 L453.75 306.25 L451.37 309.44 L450 313.75 L447.48 315.78 L444.78 317.36 L441.25 318.75"/>
<path d="M441.25 318.75 L438.14 320.9 L433.75 322.5 L429.82 323.48 L425 326 L422.24 329.09 L420 332 L416.42 332.38 L412.86 333.24 L410 333.75 L407.15 334.74 L403.57 334.59 L400 336.25 L397.12 334.31 L393.75 331.25 L392.18 327.66 L390.43 323.7 L388.75 320 L383.9 318 L380 316.25 L376.28 314.22 L372.7 312.6 L368.75 311.25 L365.08 312.46 L362.5 313.75 L359.08 313.56 L355.51 313.78 L351.37 313.91 L347.5 313.75 L342.85 314.23 L338.92 315.63 L335 316"/>
<path d="M335 316 L330 312.5 L327.56 310.42 L324.98 307.32 L322.5 305"/>
<path d="M368.75 397.5 L368.7 393.87 L367.7 390.3 L366.52 386.43 L364.1 383.3 L363.73 379.39 L363 376.2 L366 375.78 L369.6 376.22 L372.6 376.2 L373.14 372 L372.6 368.4 L368.4 367 L365.5 365 L362.53 362.6 L360 360.7 L357.3 355 L357.5 351.25 L354.8 346.91 L352.5 343.75 L349.51 343.9 L345.47 343.36 L342.5 342.5 L341.95 338.99 L341.25 335 L338.2 331.44 L336.25 327.5 L336.36 323.72 L335.71 320.18 L335 316"/>
<path d="M441.25 318.75 L437.96 321.48 L435 325 L434.96 328.84 L436.26 332.08 L436.25 335 L435.93 338.25 L436.7 342.59 L437.5 346"/>
<path d="M437.5 346 L437.91 349.56 L437.86 352.84 L438.26 355.77 L437.6 359.2 L436.14 362.76 L434.8 366.3 L431.9 372 L433.39 375.87 L433.4 379 L431.2 384.7 L426.3 387.5 L420.6 385.4 L417.1 385.56 L413.6 386.1 L409.96 386.94 L406.5 388.9 L403.73 391.64 L400 394"/>
<path d="M437.5 346 L441.25 348.75 L445.54 347.99 L449.03 347.75 L453.75 347.5 L457.5 351.25 L462.08 351.6 L465.25 352.55 L470 352.5 L473.15 353.73 L477.43 355.32 L480.75 356"/>
<path d="M480.75 356 L483.24 358.68 L484.6 361.58 L486.25 365 L488.54 367.41 L491.67 369.41 L493.75 372.5 L495.95 376.04 L497.47 379.41 L498.75 383.75 L497.72 387.37 L497.82 390.34 L496.25 393.75 L498.26 396.22 L501.63 398.37 L503.75 401.25 L506.47 404.19 L510 407.5 L510 413.75"/>
<path d="M480.75 356 L483 352 L488.05 350.35 L491.5 348.4 L495.77 350.03 L499.2 350.7 L502.07 351.35 L505 353.5 L510 351 L513.2 348.08 L516.5 346 L516.99 342.78 L517.5 339.5 L514 342 L510 338 L505.3 335 L504.5 330 L502 329 L500.85 325.62 L499.5 323 L499.41 319.15 L500 316 L504.03 316.15 L507 317 L511.5 315.4 L515.47 316.28 L520.7 317 L524.84 315.99 L529 314.6 L532.34 315.32 L536 317 L539.28 317.92 L542 320 L545.3 324.6 L543.7 328.4 L547.45 329.08 L551.4 329.2 L555.4 328.5 L559 328.4 L563 329"/>
<path d="M563 329 L565.1 331.96 L567.65 334.1 L569.5 336.25 L571.78 338.85 L574.33 340.27 L577 342.5 L579.25 344.57 L581.92 347.32 L584.5 348.75 L583.25 352.5 L579.77 353.97 L577 356.25 L577.27 359.74 L577 363.75 L580.25 367.09 L583.25 370 L584.5 375"/>
<path d="M502.5 258.75 L506.43 260.95 L510 262.5 L513.38 263.85 L516.83 265.83 L520 267.5 L523.21 269.09 L526.16 270.11 L530.01 269.74 L532.5 271.25 L536.79 271.85 L540 272.5 L542.49 276.92 L545 280 L546.65 282.32 L549.37 284.99 L551.25 287.5 L553.92 284.66 L557.59 282.02 L560 278.75 L564.5 278"/>
<path d="M564.5 278 L566.11 281.32 L566.33 284.54 L568 287.5 L568.73 291.28 L571 295 L572.2 300 L573 306 L572.31 310.36 L571.4 313.8 L567.77 315.65 L563.7 316.9 L562.2 323 L563 329"/>
<path d="M608.25 218.75 L606.64 223.38 L604.5 227.5 L604.03 231.45 L602.7 233.86 L602 237.5 L603.67 241.33 L604.5 246.25 L602 250"/>
<path d="M602 250 L597.96 250.61 L594.5 252.5 L592.39 256.89 L590.75 261 L588.17 263.2 L585.36 266.52 L583.5 269 L580.41 270.99 L577.37 272.63 L575 274.5 L571.66 275.96 L568.26 276.02 L564.5 278"/>
<path d="M602 250 L604.1 252.91 L606.73 255.13 L608.25 257.5 L609.54 261.27 L609.5 265 L613.08 266.03 L617 268.75 L617.1 272.51 L618.38 277.61 L619.5 281.25 L621.29 284.36 L622.59 287.66 L623.25 291.25 L625.05 293.71 L628.21 296.09 L629.5 298.75 L632.16 300.92 L634.98 303.07 L637 305 L638.96 307.33 L641.17 309.94 L643.25 312.5 L646.83 313.67 L650.75 315 L652 320"/>
<path d="M393.8 369.1 L395.2 379 L397.3 387.5 L398 394.5" stroke-width="1.4"/>
<path d="M362.8 375.5 L364.1 383.3 L367.7 390.3 L368.4 397.5" stroke-width="2"/>
<path d="M384.6 386.8 L379 396.8" stroke-width="1.3"/>
<path d="M507 319 L508.5 324 L510 329" stroke-width="1.6"/>
<path d="M330 408 L336 413 L341 418 L345 423" stroke-width="3"/>
</g>
<path d="M376 398.5 L382.5 397.4 L392.4 396 L398 394.3 L402.3 397.4 L407.9 398.8 L412.2 401.6 L416.4 404.2 L417.2 405.8 L416.2 407 L410.8 406.8 L406.5 403.9 L399.5 404.7 L392.4 403.2 L386.7 403.9 L383.9 401.8Z" fill="#fff"/>
<path d="M502.5 428 L510 443 L517 456 L523.5 466.5" fill="none" stroke="#D1D3D4" stroke-width="0.7"/>
<g font-family="'Liberation Sans', sans-serif" font-weight="bold">
<text x="150" y="136.25" font-size="11" fill="#fff" textLength="27.5" lengthAdjust="spacingAndGlyphs">Луцк</text>
<text x="151.25" y="154.25" font-size="12" fill="#fff" stroke="#fff" stroke-width="0.35" textLength="24.5" lengthAdjust="spacingAndGlyphs">9,62</text>
<text x="204.5" y="150" font-size="11" fill="#fff" textLength="32.5" lengthAdjust="spacingAndGlyphs">Ровно</text>
<text x="204.5" y="168" font-size="12" fill="#fff" stroke="#fff" stroke-width="0.35" textLength="32.5" lengthAdjust="spacingAndGlyphs">10,83</text>
<text x="255" y="175" font-size="11" fill="#fff" textLength="49.25" lengthAdjust="spacingAndGlyphs">Житомир</text>
<text x="266.25" y="188.75" font-size="12" fill="#fff" stroke="#fff" stroke-width="0.35" textLength="26.25" lengthAdjust="spacingAndGlyphs">8,40</text>
<text x="374.5" y="132.5" font-size="11" fill="#fff" textLength="51" lengthAdjust="spacingAndGlyphs">Чернигов</text>
<text x="387.5" y="146.75" font-size="12" fill="#fff" stroke="#fff" stroke-width="0.35" textLength="23.75" lengthAdjust="spacingAndGlyphs">7,92</text>
<text x="452.5" y="153.75" font-size="11" fill="#fff" textLength="30.5" lengthAdjust="spacingAndGlyphs">Сумы</text>
<text x="452.5" y="170.5" font-size="12" fill="#fff" stroke="#fff" stroke-width="0.35" textLength="30" lengthAdjust="spacingAndGlyphs">11,73</text>
<text x="333.75" y="202.5" font-size="11" fill="#fff" textLength="30.5" lengthAdjust="spacingAndGlyphs">КИЕВ</text>
<text x="335" y="216.75" font-size="12" fill="#fff" stroke="#fff" stroke-width="0.35" textLength="26.25" lengthAdjust="spacingAndGlyphs">9,22</text>
<text x="367.5" y="253.75" font-size="11" fill="#fff" textLength="52" lengthAdjust="spacingAndGlyphs">Черкассы</text>
<text x="380" y="267.5" font-size="12" fill="#fff" stroke="#fff" stroke-width="0.35" textLength="25.5" lengthAdjust="spacingAndGlyphs">9,07</text>
<text x="438.75" y="225.75" font-size="11" fill="#fff" textLength="45" lengthAdjust="spacingAndGlyphs">Полтава</text>
<text x="448.75" y="240" font-size="12" fill="#fff" stroke="#fff" stroke-width="0.35" textLength="25.5" lengthAdjust="spacingAndGlyphs">8,83</text>
<text x="533.25" y="229.75" font-size="11" fill="#fff" textLength="45" lengthAdjust="spacingAndGlyphs">Харьков</text>
<text x="543.25" y="244" font-size="12" fill="#fff" stroke="#fff" stroke-width="0.35" textLength="25.25" lengthAdjust="spacingAndGlyphs">9,58</text>
<text x="461.25" y="292.5" font-size="11" fill="#fff" textLength="88.75" lengthAdjust="spacingAndGlyphs">Днепропетровск</text>
<text x="488.9" y="306.3" font-size="12" fill="#fff" stroke="#fff" stroke-width="0.35" textLength="30.6" lengthAdjust="spacingAndGlyphs">11,16</text>
<text x="619.5" y="248.75" font-size="11" fill="#fff" textLength="43.25" lengthAdjust="spacingAndGlyphs">Луганск</text>
<text x="625.75" y="263" font-size="12" fill="#fff" stroke="#fff" stroke-width="0.35" textLength="30" lengthAdjust="spacingAndGlyphs">11,31</text>
<text x="580" y="315" font-size="11" fill="#fff" textLength="41.5" lengthAdjust="spacingAndGlyphs">Донецк</text>
<text x="584" y="329.25" font-size="12" fill="#fff" stroke="#fff" stroke-width="0.35" textLength="32.5" lengthAdjust="spacingAndGlyphs">11,22</text>
<text x="191.25" y="223" font-size="11" fill="#fff" textLength="74.25" lengthAdjust="spacingAndGlyphs">Хмельницкий</text>
<text x="216.25" y="238.5" font-size="12" fill="#fff" stroke="#fff" stroke-width="0.35" textLength="23.25" lengthAdjust="spacingAndGlyphs">7,53</text>
<text x="149.5" y="236.75" font-size="11" fill="#fff" textLength="55.8" lengthAdjust="spacingAndGlyphs">Тернополь</text>
<text x="165" y="251.75" font-size="12" fill="#fff" stroke="#fff" stroke-width="0.35" textLength="24.25" lengthAdjust="spacingAndGlyphs">8,12</text>
<text x="261.25" y="274.5" font-size="11" fill="#6D6E71" textLength="46.75" lengthAdjust="spacingAndGlyphs">Винница</text>
<text x="271.75" y="288.5" font-size="12" fill="#6D6E71" stroke="#6D6E71" stroke-width="0.35" textLength="24" lengthAdjust="spacingAndGlyphs">6,25</text>
<text x="170" y="310" font-size="12" fill="#6D6E71" stroke="#6D6E71" stroke-width="0.35" textLength="23.25" lengthAdjust="spacingAndGlyphs">7,61</text>
<text x="155" y="327.5" font-size="11" fill="#6D6E71" textLength="55" lengthAdjust="spacingAndGlyphs">Черновцы</text>
<text x="377.5" y="300" font-size="11" fill="#fff" textLength="63.75" lengthAdjust="spacingAndGlyphs">Кировоград</text>
<text x="393" y="313.75" font-size="12" fill="#fff" stroke="#fff" stroke-width="0.35" textLength="30.75" lengthAdjust="spacingAndGlyphs">12,35</text>
<text x="368.25" y="353.75" font-size="11" fill="#fff" textLength="53" lengthAdjust="spacingAndGlyphs">Николаев</text>
<text x="381.75" y="369.1" font-size="12" fill="#fff" stroke="#fff" stroke-width="0.35" textLength="25.75" lengthAdjust="spacingAndGlyphs">9,94</text>
<text x="322.5" y="371.25" font-size="11" fill="#fff" textLength="37.5" lengthAdjust="spacingAndGlyphs">Одесса</text>
<text x="329.5" y="385.5" font-size="12" fill="#fff" stroke="#fff" stroke-width="0.35" textLength="24.25" lengthAdjust="spacingAndGlyphs">9,74</text>
<text x="446.25" y="387.5" font-size="11" fill="#fff" textLength="37.5" lengthAdjust="spacingAndGlyphs">Херсон</text>
<text x="452" y="401.75" font-size="12" fill="#fff" stroke="#fff" stroke-width="0.35" textLength="25" lengthAdjust="spacingAndGlyphs">9,07</text>
<text x="506.25" y="368.75" font-size="11" fill="#fff" textLength="60" lengthAdjust="spacingAndGlyphs">Запорожье</text>
<text x="524.25" y="382.5" font-size="12" fill="#fff" stroke="#fff" stroke-width="0.35" textLength="24.5" lengthAdjust="spacingAndGlyphs">8,31</text>
<text x="61.25" y="281.25" font-size="11" fill="#fff" textLength="48.75" lengthAdjust="spacingAndGlyphs">Ужгород</text>
<text x="72.5" y="295" font-size="12" fill="#fff" stroke="#fff" stroke-width="0.35" textLength="25" lengthAdjust="spacingAndGlyphs">8,40</text>
<text x="95.5" y="218.75" font-size="11" fill="#6D6E71" textLength="32.5" lengthAdjust="spacingAndGlyphs">Львов</text>
<text x="99.5" y="233" font-size="12" fill="#6D6E71" stroke="#6D6E71" stroke-width="0.35" textLength="25.5" lengthAdjust="spacingAndGlyphs">6,08</text>
<text x="120" y="260" font-size="11" fill="#6D6E71" textLength="37.5" lengthAdjust="spacingAndGlyphs">Ивано-</text>
<text x="108.75" y="270.5" font-size="11" fill="#6D6E71" textLength="60" lengthAdjust="spacingAndGlyphs">Франковск</text>
<text x="125" y="285.5" font-size="12" fill="#6D6E71" stroke="#6D6E71" stroke-width="0.35" textLength="26.25" lengthAdjust="spacingAndGlyphs">5,69</text>
</g>
<text x="22.28" y="30.7" font-family="'Liberation Sans', sans-serif" font-weight="bold" font-size="30.3" letter-spacing="1.6" fill="#55565A" stroke="#55565A" stroke-width="1.6" stroke-linejoin="miter" textLength="104.25" lengthAdjust="spacingAndGlyphs">НОВЫЕ</text>
<text x="130.88" y="30.7" font-family="'Liberation Sans', sans-serif" font-weight="bold" font-size="30.3" letter-spacing="1.6" fill="#55565A" stroke="#55565A" stroke-width="1.6" stroke-linejoin="miter" textLength="136.92" lengthAdjust="spacingAndGlyphs">ТАРИФЫ</text>
<text x="276.49" y="30.7" font-family="'Liberation Sans', sans-serif" font-weight="bold" font-size="30.3" letter-spacing="1.6" fill="#55565A" stroke="#55565A" stroke-width="1.6" stroke-linejoin="miter" textLength="36.76" lengthAdjust="spacingAndGlyphs">ПО</text>
<text x="322.56" y="30.7" font-family="'Liberation Sans', sans-serif" font-weight="bold" font-size="30.3" letter-spacing="1.6" fill="#55565A" stroke="#55565A" stroke-width="1.6" stroke-linejoin="miter" textLength="185.42" lengthAdjust="spacingAndGlyphs">ОБЛАСТНЫМ</text>
<text x="515.02" y="30.7" font-family="'Liberation Sans', sans-serif" font-weight="bold" font-size="30.3" letter-spacing="1.6" fill="#55565A" stroke="#55565A" stroke-width="1.6" stroke-linejoin="miter" textLength="139.65" lengthAdjust="spacingAndGlyphs">ЦЕНТРАМ</text>
<g font-family="'Liberation Sans', sans-serif" fill="#4D4D4F">
<text x="503.3" y="69" font-size="13.5" textLength="158.5" lengthAdjust="spacingAndGlyphs">Тариф на отопление, грн/м</text>
<text x="662.2" y="64.3" font-size="7.5">2</text>
<rect x="502" y="74" width="18.7" height="18.9" fill="#FBEE82"/>
<rect x="523.15" y="74" width="18.7" height="18.9" fill="#FFDD15"/>
<rect x="544.3" y="74" width="18.7" height="18.9" fill="#FBB040"/>
<rect x="565.45" y="74" width="18.7" height="18.9" fill="#F7941D"/>
<rect x="586.6" y="74" width="18.7" height="18.9" fill="#F15A29"/>
<rect x="607.75" y="74" width="18.7" height="18.9" fill="#EF4136"/>
<rect x="628.9" y="74" width="18.7" height="18.9" fill="#ED1C24"/>
<rect x="650.2" y="74" width="62" height="18.9" fill="#BE1E2D"/>
<text x="511.5" y="107" font-size="13" text-anchor="middle">5</text>
<text x="533" y="107" font-size="13" text-anchor="middle">6</text>
<text x="554" y="107" font-size="13" text-anchor="middle">7</text>
<text x="575" y="107" font-size="13" text-anchor="middle">8</text>
<text x="596" y="107" font-size="13" text-anchor="middle">9</text>
<text x="617" y="107" font-size="13" text-anchor="middle">10</text>
<text x="637" y="107" font-size="13" text-anchor="middle">11</text>
<text x="650" y="107" font-size="13" textLength="19" lengthAdjust="spacingAndGlyphs">&gt;12</text>
<rect x="527" y="120.5" width="16.7" height="15.8" fill="#D1D3D4"/>
<text x="548.4" y="131.5" font-size="13" textLength="86" lengthAdjust="spacingAndGlyphs">не определено</text>
<text x="60" y="370" font-size="13" textLength="107.5" lengthAdjust="spacingAndGlyphs">платит по старому,</text>
<text x="60" y="386" font-size="13" textLength="120" lengthAdjust="spacingAndGlyphs">в течение всего года</text>
</g>
<path d="M54 365.4 H41.55 V214.5 H89" fill="none" stroke="#000" stroke-width="1.25"/>
<path d="M91.4 214.5 L88.4 212.6 L88.4 216.4Z" fill="#000"/>
</svg>
</body></html>
